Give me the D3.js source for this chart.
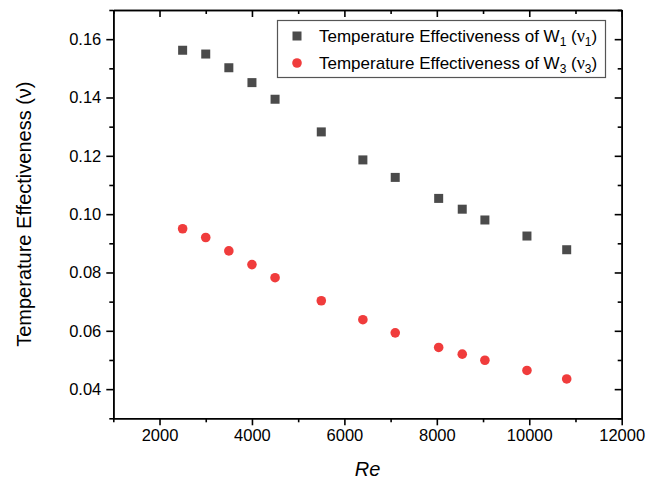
<!DOCTYPE html>
<html>
<head>
<meta charset="utf-8">
<script src="https://cdn.jsdelivr.net/npm/d3@7"></script>
<style>
  body { margin: 0; background: #fff; }
  svg { display: block; font-family: "Liberation Sans", Arial, sans-serif; }
</style>
</head>
<body>
<svg width="659" height="483"></svg>
<script>
// Reynolds numbers (x) and effectiveness values
const re = [2500, 3000, 3500, 4000, 4500, 5500, 6400, 7100, 8040, 8550, 9040, 9950, 10810];
const nu1 = [0.1562, 0.1549, 0.1502, 0.1451, 0.1394, 0.1282, 0.1186, 0.1126, 0.1054, 0.1017, 0.0980, 0.0925, 0.0878];
const nu3 = [0.0950, 0.0920, 0.0874, 0.0827, 0.0782, 0.0703, 0.0638, 0.0593, 0.0543, 0.0520, 0.0499, 0.0464, 0.0435];

const xMajor = [2000, 4000, 6000, 8000, 10000, 12000];
const xMinor = [1000, 3000, 5000, 7000, 9000, 11000];
const yMajor = [0.04, 0.06, 0.08, 0.10, 0.12, 0.14, 0.16];
const yMinor = [0.03, 0.05, 0.07, 0.09, 0.11, 0.13, 0.15, 0.17];

const margin = {left: 113.3, right: 37.3, top: 10, bottom: 64.7};
const width = 659, height = 483;

const svg = d3.select("svg");

const x = d3.scaleLinear()
    .domain([1000, 12000])
    .range([margin.left, width - margin.right]);
const y = d3.scaleLinear()
    .domain([0.03, 0.17])
    .range([height - margin.bottom, margin.top]);

const tickFont = "16.5px";

// bottom axis
svg.append("g")
    .attr("transform", `translate(0,${y(0.03)})`)
    .call(d3.axisBottom(x).tickValues(xMajor).tickSizeInner(7).tickSizeOuter(0).tickPadding(4).tickFormat(d3.format("d")))
    .call(g => g.selectAll("text").style("font-size", tickFont).attr("fill", "#000"));
svg.append("g")
    .attr("transform", `translate(0,${y(0.03)})`)
    .call(d3.axisBottom(x).tickValues(xMinor).tickSizeInner(4).tickSizeOuter(0).tickFormat(""));

// top axis, ticks pointing in
svg.append("g")
    .attr("transform", `translate(0,${y(0.17)})`)
    .call(d3.axisTop(x).tickValues(xMajor).tickSizeInner(-7).tickSizeOuter(0).tickFormat(""));
svg.append("g")
    .attr("transform", `translate(0,${y(0.17)})`)
    .call(d3.axisTop(x).tickValues(xMinor).tickSizeInner(-4).tickSizeOuter(0).tickFormat(""));

// left axis
svg.append("g")
    .attr("transform", `translate(${x(1000)},0)`)
    .call(d3.axisLeft(y).tickValues(yMajor).tickSizeInner(7).tickSizeOuter(0).tickPadding(5).tickFormat(d3.format(".2f")))
    .call(g => g.selectAll("text").style("font-size", tickFont).attr("fill", "#000"));
svg.append("g")
    .attr("transform", `translate(${x(1000)},0)`)
    .call(d3.axisLeft(y).tickValues(yMinor).tickSizeInner(4).tickSizeOuter(0).tickFormat(""));

// right axis, ticks pointing in
svg.append("g")
    .attr("transform", `translate(${x(12000)},0)`)
    .call(d3.axisRight(y).tickValues(yMajor).tickSizeInner(-7).tickSizeOuter(0).tickFormat(""));
svg.append("g")
    .attr("transform", `translate(${x(12000)},0)`)
    .call(d3.axisRight(y).tickValues(yMinor).tickSizeInner(-4).tickSizeOuter(0).tickFormat(""));

svg.selectAll(".domain, .tick line")
    .attr("stroke", "#000")
    .attr("stroke-width", 1.6);

// axis titles
svg.append("text")
    .attr("x", (x(1000) + x(12000)) / 2)
    .attr("y", 476)
    .attr("text-anchor", "middle")
    .style("font-size", "20px")
    .style("font-style", "italic")
    .text("Re");

svg.append("text")
    .attr("transform", `translate(31,${(y(0.03) + y(0.17)) / 2}) rotate(-90)`)
    .attr("text-anchor", "middle")
    .style("font-size", "20px")
    .text("Temperature Effectiveness (\u03bd)");

// markers
const sq = 9;
svg.append("g")
    .selectAll("rect")
    .data(re)
    .join("rect")
    .attr("x", (d, i) => x(d) - sq / 2)
    .attr("y", (d, i) => y(nu1[i]) - sq / 2)
    .attr("width", sq)
    .attr("height", sq)
    .attr("fill", "#4b4b4b");

svg.append("g")
    .selectAll("circle")
    .data(re)
    .join("circle")
    .attr("cx", d => x(d))
    .attr("cy", (d, i) => y(nu3[i]))
    .attr("r", 4.8)
    .attr("fill", "#f03c3c");

// legend
const legend = svg.append("g");
legend.append("rect")
    .attr("x", 277.5)
    .attr("y", 20.5)
    .attr("width", 328)
    .attr("height", 57)
    .attr("fill", "#fff")
    .attr("stroke", "#555")
    .attr("stroke-width", 1.2);

const entries = [
    {sub: "1", y: 36},
    {sub: "3", y: 63}
];

legend.append("rect")
    .attr("x", 297 - sq / 2)
    .attr("y", entries[0].y - sq / 2)
    .attr("width", sq)
    .attr("height", sq)
    .attr("fill", "#4b4b4b");
legend.append("circle")
    .attr("cx", 297)
    .attr("cy", entries[1].y)
    .attr("r", 4.8)
    .attr("fill", "#f03c3c");

entries.forEach(e => {
    const t = legend.append("text")
        .attr("x", 319)
        .attr("y", e.y + 6)
        .style("font-size", "17px");
    t.append("tspan").text("Temperature Effectiveness of W");
    t.append("tspan").attr("dy", 4).style("font-size", "12px").text(e.sub);
    t.append("tspan").attr("dy", -4).text(" (");
    t.append("tspan").style("font-family", "'Liberation Serif', serif").style("font-size", "18px").text("\u03bd");
    t.append("tspan").attr("dy", 4).style("font-size", "12px").text(e.sub);
    t.append("tspan").attr("dy", -4).text(")");
});
</script>
</body>
</html>
